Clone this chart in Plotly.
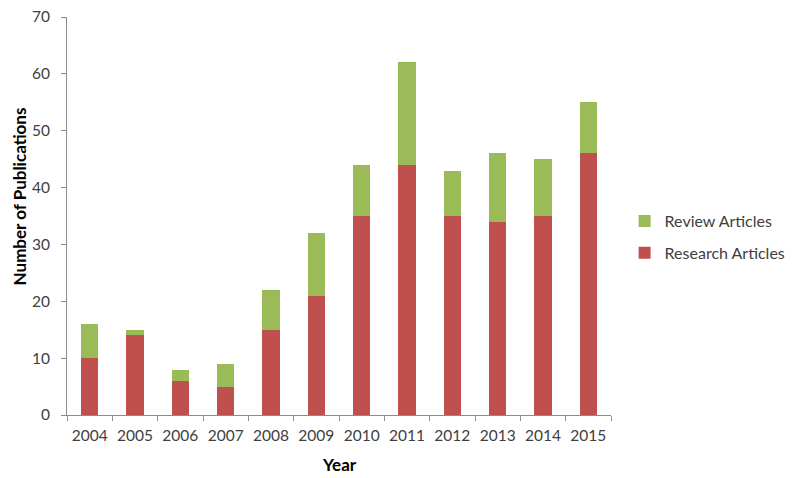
import plotly.graph_objects as go

years = ["2004", "2005", "2006", "2007", "2008", "2009",
         "2010", "2011", "2012", "2013", "2014", "2015"]
research = [10, 14, 6, 5, 15, 21, 35, 44, 35, 34, 35, 46]
review = [6, 1, 2, 4, 7, 11, 9, 18, 8, 12, 10, 9]

FONT = "Lato, 'Open Sans', sans-serif"
AXIS_GREY = "#8c8c8c"

fig = go.Figure()
fig.add_trace(go.Bar(
    x=years, y=research, name="Research Articles",
    marker=dict(color="#C0504D", line=dict(width=0)),
    legendgroup="research", legendrank=2,
))
fig.add_trace(go.Bar(
    x=years, y=review, name="Review Articles",
    marker=dict(color="#9BBB59", line=dict(width=0)),
    legendgroup="review", legendrank=1,
))

# page body has an 8px margin, so the figure is 792x470 and offsets are compensated
fig.update_layout(
    barmode="stack", bargap=0.615,
    width=792, height=470,
    margin=dict(l=59, r=163, t=9, b=63),
    plot_bgcolor="white", paper_bgcolor="white",
    font=dict(family=FONT, size=15.5, color="#404040"),
    legend=dict(
        x=1.025, y=0.447, xanchor="left", yanchor="middle",
        traceorder="grouped", tracegroupgap=8,
        font=dict(size=16, color="#404040"),
        itemwidth=30,
    ),
    xaxis=dict(
        showline=True, linecolor=AXIS_GREY, linewidth=1,
        ticks="outside", tickcolor=AXIS_GREY, ticklen=5,
        tickson="boundaries", showgrid=False, tickangle=0,
        ticklabelstandoff=6, automargin=False,
    ),
    yaxis=dict(
        range=[0, 70], dtick=10,
        showline=True, linecolor=AXIS_GREY, linewidth=1,
        ticks="outside", tickcolor=AXIS_GREY, ticklen=5,
        showgrid=False, zeroline=False,
        ticklabelstandoff=8, automargin=False,
        ticklabeloverflow="allow",
    ),
    annotations=[
        dict(
            text="<b>Number of Publications</b>", textangle=-90,
            xref="paper", yref="paper", x=-0.0877, y=0.55,
            xanchor="center", yanchor="middle", showarrow=False,
            font=dict(size=17, color="#000"),
        ),
        dict(
            text="<b>Year</b>",
            xref="paper", yref="paper", x=0.5018, y=-0.1256,
            xanchor="center", yanchor="middle", showarrow=False,
            font=dict(size=17, color="#000"),
        ),
    ],
)

fig.write_html("out.html")
